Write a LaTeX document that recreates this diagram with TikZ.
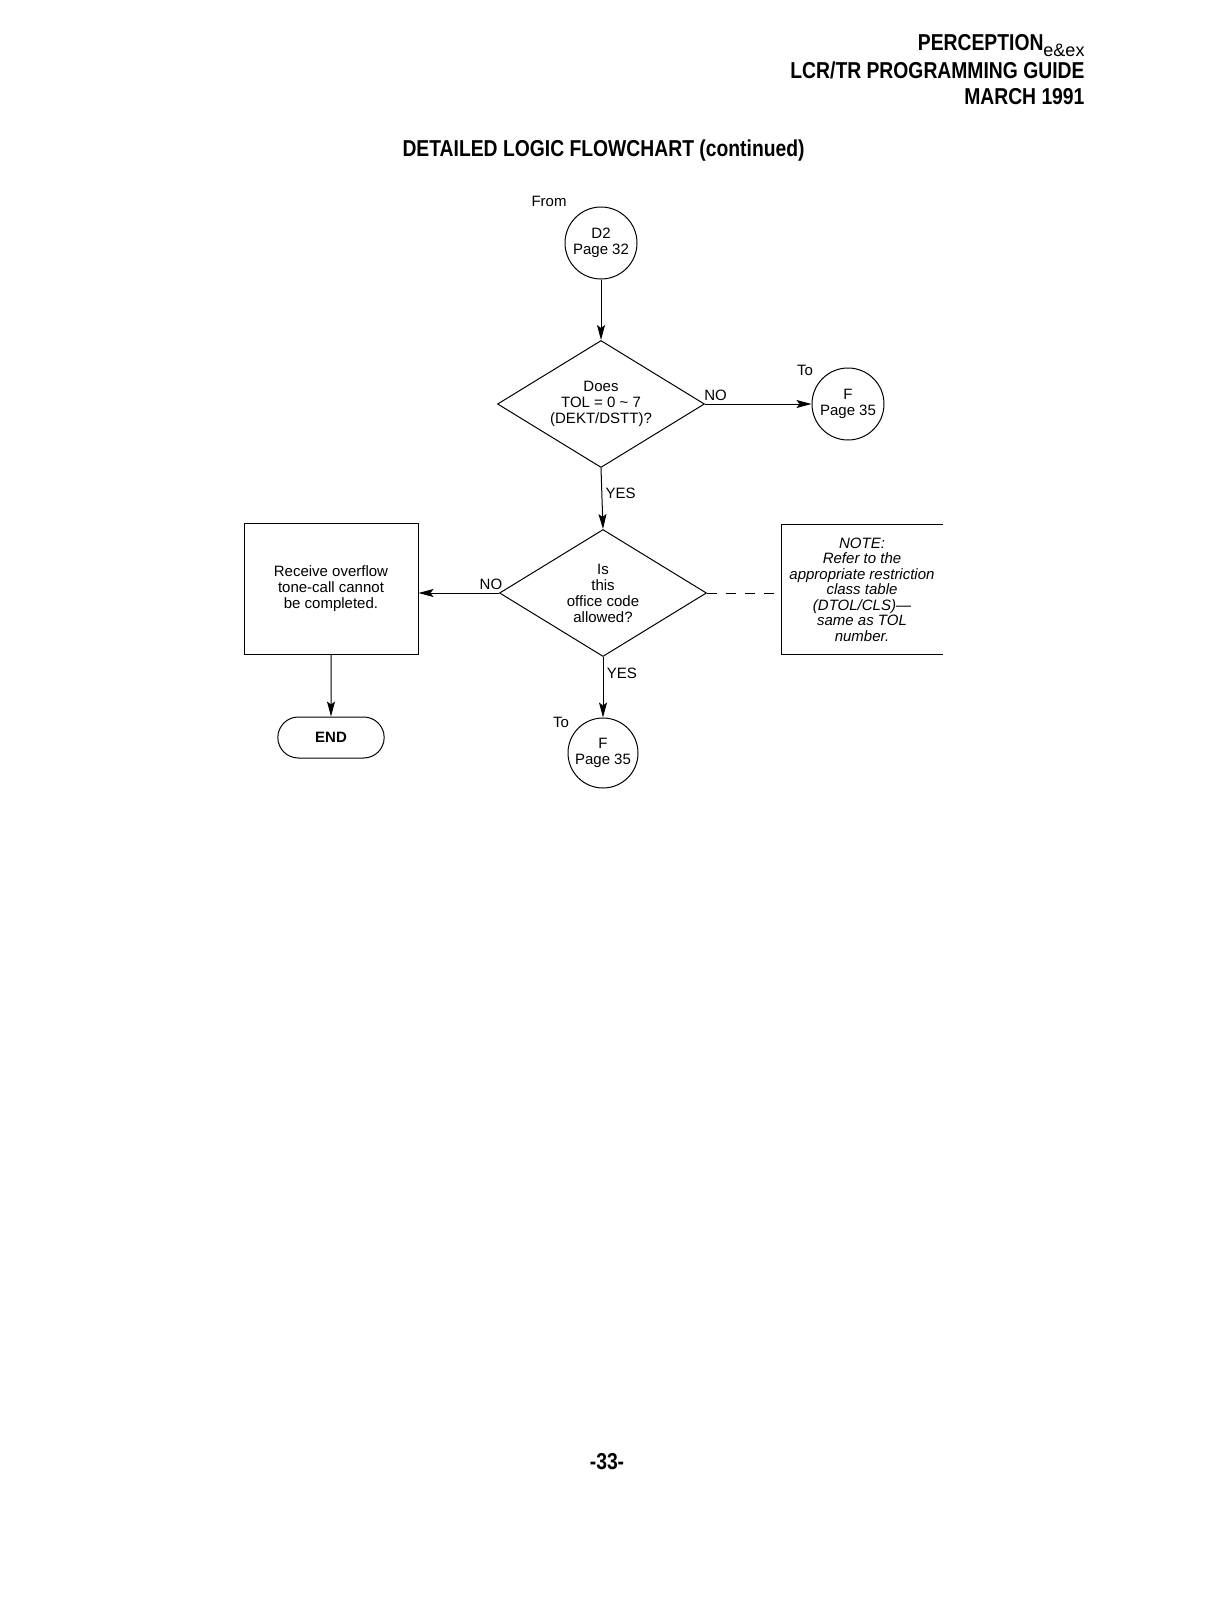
\documentclass[tikz,border=0pt]{standalone}
\usepackage{fontspec}
\setmainfont{Liberation Sans}
\newfontfamily\headfont{Liberation Sans}[FakeStretch=0.84]
\usetikzlibrary{shapes.geometric,shapes.misc,arrows.meta}
\tikzset{
    conn/.style={circle, draw, minimum size=72pt, inner sep=0pt, align=center},
    decision/.style={diamond, draw, aspect=1.63, minimum width=207pt, minimum height=127pt, inner sep=0pt, align=center},
    process/.style={rectangle, draw, minimum width=174pt, minimum height=131pt, align=center},
    terminal/.style={rounded rectangle, draw, minimum width=113pt, minimum height=41pt},
    flow/.style={-{Stealth[length=15pt,width=8pt,inset=3pt]}},
    lbl/.style={font=\fontsize{15}{16}\selectfont},
    heading/.style={font=\fontsize{23}{26}\selectfont\headfont\bfseries, inner sep=0pt}
}
\begin{document}
\begin{tikzpicture}[x=1pt, y=-1pt, line width=1pt, every node/.style={font=\fontsize{15}{16}\selectfont}]
    \useasboundingbox[fill=white] (0,0) rectangle (1229,1598);
    % page header
    \node[heading, anchor=base east] (hdone) at (1085,50) {PERCEPTION\raisebox{-6pt}{\fontsize{18}{18}\normalfont e\&ex}};
    \node[heading, anchor=base east] (hdtwo) at (1085,78) {LCR/TR PROGRAMMING GUIDE};
    \node[heading, anchor=base east] (hdthree) at (1085,104) {MARCH 1991};
    \node[heading, anchor=base west] (title) at (402,156) {DETAILED LOGIC FLOWCHART (continued)};
    % flowchart
    \node[conn] (from) at (601,243) {D2\\Page 32};
    \node[decision] (tol) at (601,404) {\raisebox{4pt}{\begin{tabular}{@{}c@{}}Does\\TOL = 0 \textasciitilde{} 7\\(DEKT/DSTT)?\end{tabular}}};
    \node[conn] (toright) at (848,404) {F\\Page 35};
    \node[decision] (office) at (603,593) {Is\\this\\office code\\allowed?};
    \node[process] (overflow) at (331,588.5) {Receive overflow\\tone-call cannot\\be completed.};
    \node[terminal] (end) at (331,737.5) {\bfseries END};
    \node[conn, minimum size=70pt] (todown) at (603,753) {F\\Page 35};
    \node[minimum width=160pt, minimum height=129pt, inner sep=0pt, align=center,
        font=\fontsize{15}{15.5}\selectfont\itshape] (note) at (862,589.5)
        {NOTE:\\Refer to the\\appropriate restriction\\class table\\(DTOL/CLS)---\\same as TOL\\number.};
    \draw (note.north east) -- (note.north west) -- (note.south west) -- (note.south east);
    \node[lbl] (fromlbl) at (549,201) {From};
    \node[lbl] (torightlbl) at (805,370) {To};
    \node[lbl] (todownlbl) at (561,722) {To};
    % connectors
    \draw[flow] (from) -- (tol);
    \draw[flow] (tol.east) -- node[lbl, above, pos=0.1] {NO} (toright);
    \draw[flow] (tol.south) -- node[lbl, right, pos=0.42] {YES} (office.north);
    \draw[flow] (office.west) -- node[lbl, above, pos=0.1] {NO} (office.west -| overflow.east);
    \draw[flow] (office.south) -- node[lbl, right, pos=0.27] {YES} (todown);
    \draw[flow] (overflow) -- (end);
    \draw[dashed, dash pattern=on 10pt off 9pt] (office.east) -- (office.east -| note.west);
    % page number
    \node[heading, anchor=base] (pagenum) at (607,1469) {-33-};
\end{tikzpicture}
\end{document}
